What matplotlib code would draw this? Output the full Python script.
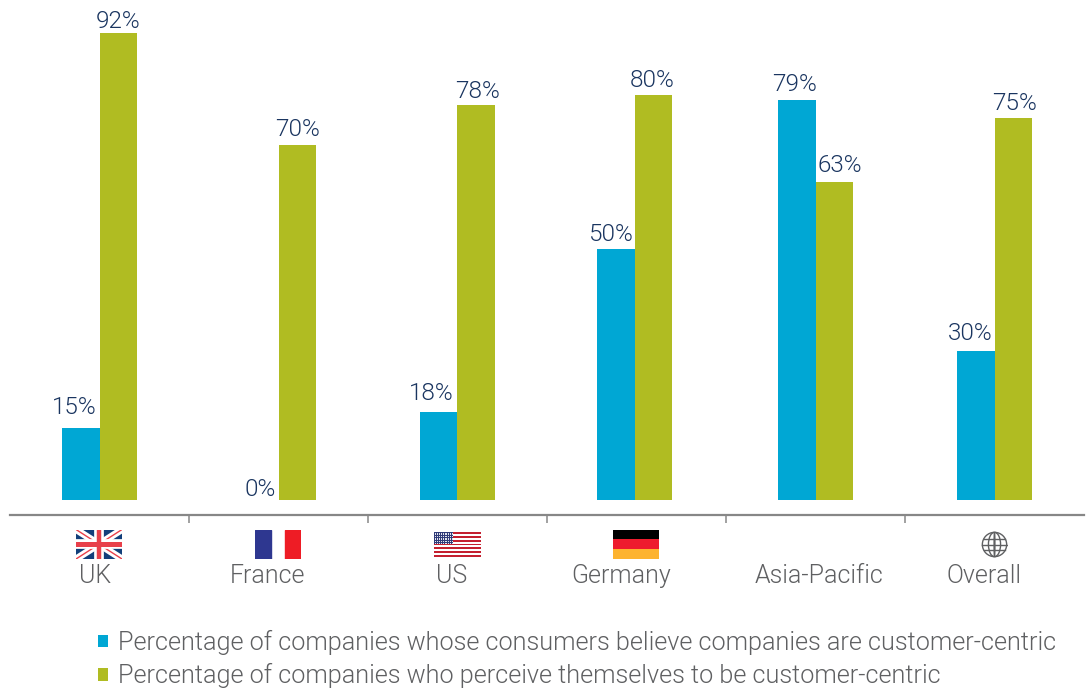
import matplotlib
matplotlib.use('Agg')
import matplotlib.pyplot as plt
from matplotlib.patches import Rectangle, Circle, Ellipse
from matplotlib.transforms import Affine2D
import numpy as np

categories = ['UK', 'France', 'US', 'Germany', 'Asia-Pacific', 'Overall']
consumers = [15, 0, 18, 50, 79, 30]
companies = [92, 70, 78, 80, 63, 75]
# bar heights as measured, they are a little off the printed numbers
consumers_height = [14.2, 0, 17.4, 49.5, 78.9, 29.4]
companies_height = [92.1, 70, 77.9, 79.9, 62.7, 75.3]
legend_labels = ['Percentage of companies whose consumers believe companies are customer-centric',
                 'Percentage of companies who perceive themselves to be customer-centric']

BLUE = '#00a7d4'
GREEN = '#b0bc22'
NAVY = '#1a3560'
GREY = '#5f6062'
W, H = 1088, 688

plt.rcParams['font.family'] = ['Roboto', 'Liberation Sans', 'DejaVu Sans']
plt.rcParams['font.weight'] = 300

fig = plt.figure(figsize=(W/100, H/100), dpi=100)
px = Affine2D().scale(1, -1).translate(0, H)  # pixels, from top left


def box(x0, y0, x1, y1):
    return [x0/W, 1-y1/H, (x1-x0)/W, (y1-y0)/H]


ax = fig.add_axes(box(10, 0, 1084, 500))
x = np.array([0, 1, 2, 2.99, 4, 5])
width = 0.209
b1 = ax.bar(x-width/2, consumers_height, width, color=BLUE)
b2 = ax.bar(x+width/2, companies_height, width, color=GREEN)
ax.set_xlim(-0.5, 5.5)
ax.set_ylim(0, 98.6)
ax.patch.set_alpha(0)

for s in ['top', 'left', 'right']:
    ax.spines[s].set_visible(False)
ax.spines['bottom'].set_position(('outward', 10.5))
ax.spines['bottom'].set_color('#878787')
ax.spines['bottom'].set_linewidth(1.6)
ax.yaxis.set_visible(False)
ax.set_xticks(np.arange(5)+0.5)
ax.set_xticklabels([])
ax.tick_params(axis='x', length=6, width=1.1, color='#878787')

# the labels were placed by hand in the original, so they wander a bit
shift1 = [-6, 0, -7, -5, -2, -6]
shift2 = [0, 0, 1, -1, 6, 1]
gap1 = [14, 4, 12, 8, 9, 11]
gap2 = [5, 9, 7, 8, 10, 8]
for i in range(len(categories)):
    ax.annotate(f'{consumers[i]}%', (x[i]-width/2, consumers_height[i]),
                xytext=(shift1[i]*0.72, gap1[i]*0.72), textcoords='offset points',
                ha='center', va='baseline', fontsize=17.5, color=NAVY)
    ax.annotate(f'{companies[i]}%', (x[i]+width/2, companies_height[i]),
                xytext=(shift2[i]*0.72, gap2[i]*0.72), textcoords='offset points',
                ha='center', va='baseline', fontsize=17.5, color=NAVY)

# category names sit off centre too
name_x = [95, 267, 452, 621, 819, 984]
for name, nx in zip(categories, name_x):
    fig.text(nx, 583, name, transform=px, ha='center', va='baseline', fontsize=18, color=GREY)


def flag_ax(x0, y0, x1, y1):
    a = fig.add_axes(box(x0, y0, x1, y1))
    a.set_xlim(0, 1)
    a.set_ylim(0, 1)
    a.axis('off')
    return a


# UK
a = flag_ax(76, 529.5, 122, 559)
a.add_patch(Rectangle((0, 0), 1, 1, color='#123f7a'))
a.plot([0, 1], [0, 1], color='white', lw=5)
a.plot([0, 1], [1, 0], color='white', lw=5)
a.plot([0, 1], [0, 1], color='#e8404a', lw=1)
a.plot([0, 1], [1, 0], color='#e8404a', lw=1)
a.axhline(0.5, color='white', lw=7)
a.axvline(0.5, color='white', lw=7)
a.axhline(0.5, color='#e8404a', lw=3.6)
a.axvline(0.5, color='#e8404a', lw=3.2)

# France
a = flag_ax(255, 529.5, 301, 559)
a.add_patch(Rectangle((0, 0), 0.35, 1, color='#2e3790'))
a.add_patch(Rectangle((0.65, 0), 0.35, 1, color='#ee1c25'))

# US
a = flag_ax(434, 532, 481, 557)
for k in range(13):
    a.add_patch(Rectangle((0, k/13), 1, 1/13, color='#c4202f' if k % 2 == 0 else 'white', lw=0))
a.add_patch(Rectangle((0, 7/13), 0.41, 6/13, color='#2f3a78', lw=0))
gx, gy = np.meshgrid(np.linspace(0.03, 0.38, 10), np.linspace(0.58, 0.97, 7))
a.scatter(gx.ravel(), gy.ravel(), s=0.6, color='white', lw=0)

# Germany
a = flag_ax(613, 529.5, 659, 559)
a.add_patch(Rectangle((0, 2/3), 1, 1/3, color='black', lw=0))
a.add_patch(Rectangle((0, 1/3), 1, 1/3, color='#ee1c2e', lw=0))
a.add_patch(Rectangle((0, 0), 1, 1/3, color='#fdb32f', lw=0))

# globe
a = flag_ax(981, 531, 1008, 558)
for art in [Circle((0.5, 0.5), 0.45), Ellipse((0.5, 0.5), 0.45, 0.9), Ellipse((0.5, 0.5), 0.03, 0.9)]:
    art.set(fill=False, edgecolor=GREY, lw=1)
    a.add_patch(art)
for yy, half in [(0.5, 0.45), (0.3, 0.4), (0.7, 0.4)]:
    a.plot([0.5-half, 0.5+half], [yy, yy], color=GREY, lw=1)

leg = fig.legend([b1[0], b2[0]], legend_labels, loc='upper left', bbox_to_anchor=(98/W, 1-630/H),
                 frameon=False, fontsize=18.2, handlelength=0.39, handleheight=0.39, handletextpad=0.39,
                 labelspacing=0.33, borderpad=0, borderaxespad=0, labelcolor=GREY)

fig.savefig('out.png', dpi=100)
